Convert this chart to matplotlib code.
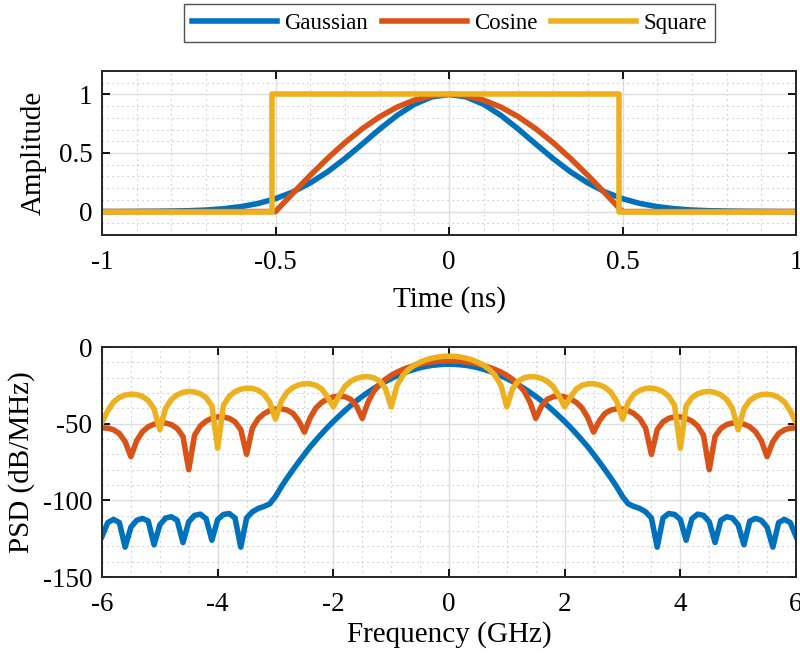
import numpy as np
import matplotlib.pyplot as plt
from matplotlib.ticker import MultipleLocator, FuncFormatter

plt.rcParams['font.family'] = ['Liberation Serif', 'DejaVu Serif']
plt.rcParams['axes.unicode_minus'] = False

labels = ['Gaussian', 'Cosine', 'Square']
colors = ['#0072BD', '#D95319', '#EDB120']

# time domain pulses (ns)
t = np.round(np.linspace(-1, 1, 41), 2)
gauss_amp = [0, 0, 0.001, 0.002, 0.004, 0.007, 0.013, 0.024, 0.042, 0.069,
             0.110, 0.167, 0.244, 0.339, 0.452, 0.576, 0.703, 0.820, 0.915, 0.978,
             1.0,
             0.978, 0.915, 0.820, 0.703, 0.576, 0.452, 0.339, 0.244, 0.167, 0.110,
             0.069, 0.042, 0.024, 0.013, 0.007, 0.004, 0.002, 0.001, 0, 0]
cos_amp = [0, 0, 0, 0, 0, 0, 0, 0, 0, 0,
           0, 0.156, 0.309, 0.454, 0.588, 0.707, 0.809, 0.891, 0.951, 0.988,
           1.0,
           0.988, 0.951, 0.891, 0.809, 0.707, 0.588, 0.454, 0.309, 0.156, 0,
           0, 0, 0, 0, 0, 0, 0, 0, 0, 0]
sq_t = [-1, -0.51, -0.51, 0.49, 0.49, 1]
sq_amp = [0, 0, 1, 1, 0, 0]

# power spectral density (dB/MHz), -6 .. 6 GHz
f = np.round(np.linspace(-6, 6, 121), 1)
gauss_psd = [-123.5, -114.5, -112.4, -114.5, -130.5, -117.5, -113.0, -111.8, -113.5, -129.0,
             -116.0, -111.5, -110.7, -113.0, -127.5, -114.0, -109.8, -109.0, -112.0, -126.0,
             -112.5, -109.2, -108.6, -111.5, -130.5, -111.5, -107.5, -105.3, -104.0, -102.3,
             -97.5, -91.2, -85.5, -80.2, -75.0, -70.0, -65.1, -60.7, -56.5, -52.4,
             -48.6, -45.0, -41.5, -38.2, -35.1, -32.2, -29.5, -27.0, -24.7, -22.5,
             -20.6, -18.8, -17.2, -15.8, -14.6, -13.5, -12.7, -12.0, -11.6, -11.3,
             -11.2,
             -11.3, -11.6, -12.0, -12.7, -13.5, -14.6, -15.8, -17.2, -18.8, -20.6,
             -22.5, -24.7, -27.0, -29.5, -32.2, -35.1, -38.2, -41.5, -45.0, -48.6,
             -52.4, -56.5, -60.7, -65.1, -70.0, -75.0, -80.2, -85.5, -91.2, -97.5,
             -102.3, -104.0, -105.3, -107.5, -111.5, -130.5, -111.5, -108.6, -109.2, -112.5,
             -126.0, -112.0, -109.0, -109.8, -114.0, -127.5, -113.0, -110.7, -111.5, -116.0,
             -129.0, -113.5, -111.8, -113.0, -117.5, -130.5, -114.5, -112.4, -114.5, -123.5]
cos_psd = [-52.7, -52.9, -54.0, -56.4, -61.7, -71.5, -61.1, -55.2, -52.0, -50.3,
           -49.5, -49.6, -50.6, -53.1, -58.3, -80.0, -57.5, -51.5, -48.3, -46.5,
           -45.6, -45.6, -46.5, -48.8, -53.9, -70.0, -52.9, -46.8, -43.5, -41.5,
           -40.5, -40.3, -41.1, -43.2, -48.1, -55.5, -46.1, -39.7, -36.1, -33.9,
           -32.5, -32.0, -32.4, -34.1, -38.5, -46.5, -35.9, -28.8, -24.4, -21.1,
           -18.5, -16.4, -14.7, -13.3, -12.1, -11.1, -10.3, -9.7, -9.3, -9.1,
           -9.0,
           -9.1, -9.3, -9.7, -10.3, -11.1, -12.1, -13.3, -14.7, -16.4, -18.5,
           -21.1, -24.4, -28.8, -35.9, -46.5, -38.5, -34.1, -32.4, -32.0, -32.5,
           -33.9, -36.1, -39.7, -46.1, -55.5, -48.1, -43.2, -41.1, -40.3, -40.5,
           -41.5, -43.5, -46.8, -52.9, -70.0, -53.9, -48.8, -46.5, -45.6, -45.6,
           -46.5, -48.3, -51.5, -57.5, -80.0, -58.3, -53.1, -50.6, -49.6, -49.5,
           -50.3, -52.0, -55.2, -61.1, -71.5, -61.7, -56.4, -54.0, -52.9, -52.7]
sq_psd = [-49.0, -41.6, -35.8, -32.9, -31.3, -30.8, -31.0, -32.3, -34.9, -40.3,
          -54.0, -39.9, -34.2, -31.2, -29.6, -29.0, -29.3, -30.5, -33.0, -38.4,
          -66.0, -38.0, -32.2, -29.1, -27.5, -26.8, -27.0, -28.2, -30.7, -36.0,
          -47.0, -35.4, -29.5, -26.4, -24.7, -23.9, -24.0, -25.0, -27.4, -32.6,
          -39.0, -31.7, -25.7, -22.4, -20.5, -19.5, -19.3, -20.1, -22.1, -27.0,
          -39.0, -25.2, -18.6, -14.7, -11.9, -9.9, -8.4, -7.3, -6.6, -6.1,
          -6.0,
          -6.1, -6.6, -7.3, -8.4, -9.9, -11.9, -14.7, -18.6, -25.2, -39.0,
          -27.0, -22.1, -20.1, -19.3, -19.5, -20.5, -22.4, -25.7, -31.7, -39.0,
          -32.6, -27.4, -25.0, -24.0, -23.9, -24.7, -26.4, -29.5, -35.4, -47.0,
          -36.0, -30.7, -28.2, -27.0, -26.8, -27.5, -29.1, -32.2, -38.0, -66.0,
          -38.4, -33.0, -30.5, -29.3, -29.0, -29.6, -31.2, -34.2, -39.9, -54.0,
          -40.3, -34.9, -32.3, -31.0, -30.8, -31.3, -32.9, -35.8, -41.6, -49.0]


def style_axes(ax, xminor, yminor):
    ax.xaxis.set_minor_locator(MultipleLocator(xminor))
    ax.yaxis.set_minor_locator(MultipleLocator(yminor))
    ax.grid(which='major', color='#dedede', lw=1.0, ls='-')
    ax.grid(which='minor', color='#b8b8b8', lw=0.8, ls=(0, (1, 3.5)))
    ax.set_axisbelow(True)
    ax.tick_params(which='major', direction='in', length=6, width=1.3,
                   top=True, right=True, labelsize=19.5)
    ax.tick_params(axis='x', pad=11)
    ax.tick_params(axis='y', pad=7)
    ax.tick_params(which='minor', length=0)
    ax.xaxis.set_major_formatter(FuncFormatter(lambda v, p: '%g' % v))
    ax.yaxis.set_major_formatter(FuncFormatter(lambda v, p: '%g' % v))
    for s in ax.spines.values():
        s.set_linewidth(1.4)
        s.set_color('#262626')


fig = plt.figure(figsize=(8, 6.54), dpi=100)
ax1 = fig.add_axes([0.1275, 0.6407, 0.8675, 0.2508])
ax2 = fig.add_axes([0.1275, 0.1177, 0.8675, 0.3517])

lw = 4
h1, = ax1.plot(t, gauss_amp, color=colors[0], lw=lw)
h2, = ax1.plot(t, cos_amp, color=colors[1], lw=lw)
h3, = ax1.plot(sq_t, sq_amp, color=colors[2], lw=lw)
ax1.set_xlim(-1, 1)
ax1.set_ylim(-0.2, 1.2)
ax1.set_xticks([-1, -0.5, 0, 0.5, 1])
ax1.set_yticks([0, 0.5, 1])
style_axes(ax1, 0.1, 0.1)
ax1.set_xlabel('Time (ns)', fontsize=21, labelpad=8)
ax1.set_ylabel('Amplitude', fontsize=21)
ax1.yaxis.set_label_coords(-0.08, 0.5)

ax2.plot(f, gauss_psd, color=colors[0], lw=lw)
ax2.plot(f, cos_psd, color=colors[1], lw=lw)
ax2.plot(f, sq_psd, color=colors[2], lw=lw)
ax2.set_xlim(-6, 6)
ax2.set_ylim(-150, 0)
ax2.set_xticks([-6, -4, -2, 0, 2, 4, 6])
ax2.set_yticks([-150, -100, -50, 0])
style_axes(ax2, 0.5, 10)
ax2.set_xlabel('Frequency (GHz)', fontsize=21, labelpad=3)
ax2.set_ylabel('PSD (dB/MHz)', fontsize=21)
ax2.yaxis.set_label_coords(-0.097, 0.5)

leg = fig.legend([h1, h2, h3], labels, loc='center', bbox_to_anchor=(0.5619, 0.9648),
                 ncol=3, fontsize=16.5, frameon=True, fancybox=False, edgecolor='#262626',
                 handlelength=3.7, handletextpad=0.32, columnspacing=0.6, borderpad=0.35)
leg.get_frame().set_linewidth(1.0)

fig.savefig('out.png', dpi=100)
